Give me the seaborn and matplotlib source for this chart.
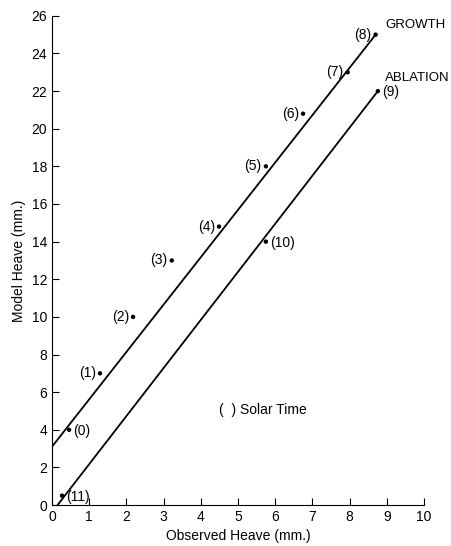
import numpy as np
import pandas as pd
import matplotlib
matplotlib.use("Agg")
import matplotlib.pyplot as plt
import seaborn as sns

# Observed vs model heave, labelled by solar time hour
solar_time = ["(0)", "(1)", "(2)", "(3)", "(4)", "(5)", "(6)", "(7)", "(8)", "(9)", "(10)", "(11)"]
observed = [0.46, 1.29, 2.18, 3.22, 4.49, 5.75, 6.75, 7.95, 8.7, 8.76, 5.75, 0.27]
model = [4.0, 7.0, 10.0, 13.0, 14.8, 18.0, 20.8, 23.0, 25.0, 22.0, 14.0, 0.5]

# fitted lines (end points)
growth_x = [0.0, 8.7]
growth_y = [3.1, 25.0]
ablation_x = [0.15, 8.76]
ablation_y = [0.0, 22.0]

# which side of the dot the label sits
label_side = ["right", "left", "left", "left", "left", "left", "left", "left", "left", "right", "right", "right"]

sns.set_theme(style="ticks")
plt.rcParams['font.family'] = ['Liberation Sans', 'DejaVu Sans']
plt.rcParams['text.color'] = 'black'
plt.rcParams['axes.labelcolor'] = 'black'

df = pd.DataFrame({'obs': observed, 'model': model, 'lab': solar_time})

fig = plt.figure(figsize=(4.52, 5.46), dpi=100)
ax = fig.add_axes([0.115, 0.075, 0.823, 0.896])

sns.lineplot(x=growth_x, y=growth_y, color='black', lw=1.3, ax=ax)
sns.lineplot(x=ablation_x, y=ablation_y, color='black', lw=1.3, ax=ax)
sns.scatterplot(data=df, x='obs', y='model', color='black', s=10, edgecolor='none', ax=ax, zorder=3)

for i, row in df.iterrows():
    if label_side[i] == "left":
        ax.annotate(row['lab'], (row['obs'], row['model']), xytext=(-3, 0),
                    textcoords='offset points', ha='right', va='center', fontsize=10)
    else:
        ax.annotate(row['lab'], (row['obs'], row['model']), xytext=(3, -1),
                    textcoords='offset points', ha='left', va='center', fontsize=10)

ax.text(8.95, 25.5, "GROWTH", fontsize=9.5, ha='left', va='center')
ax.text(8.95, 22.7, "ABLATION", fontsize=9.5, ha='left', va='center')
ax.text(4.5, 5.05, "(  ) Solar Time", fontsize=10, ha='left', va='center')

ax.set_xlim(0, 10)
ax.set_ylim(0, 26)
ax.set_xticks(range(0, 11))
ax.set_yticks(range(0, 27, 2))
ax.tick_params(direction='in', length=5, width=0.8, labelsize=10, colors='black')
ax.set_xlabel("Observed Heave (mm.)", fontsize=10)
ax.set_ylabel("Model Heave (mm.)", fontsize=10)
sns.despine(ax=ax)
for sp in ['left', 'bottom']:
    ax.spines[sp].set_color('black')
    ax.spines[sp].set_linewidth(0.8)

fig.savefig("out.png", dpi=100)
